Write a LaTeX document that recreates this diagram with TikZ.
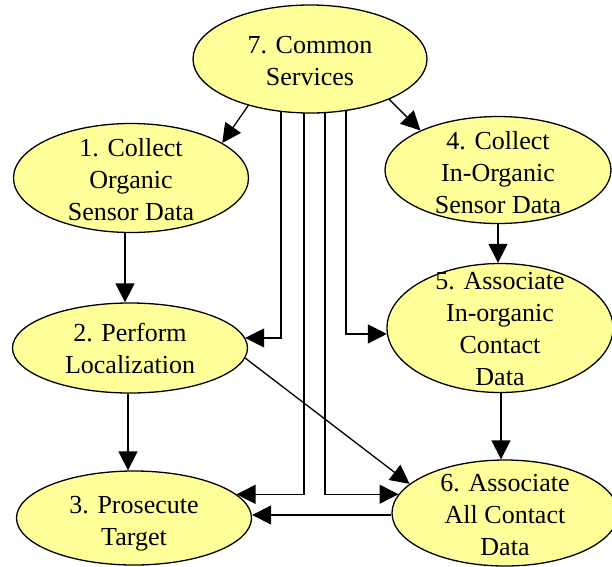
\documentclass[tikz,border=0pt]{standalone}
\usepackage{fontspec}
\setmainfont{Liberation Serif}
\usetikzlibrary{shapes.geometric,arrows.meta,backgrounds}
\definecolor{procfill}{HTML}{FFFF99}
\begin{document}
\begin{tikzpicture}[x=1pt,y=-1pt,
  proc/.style={ellipse, draw, line width=1.3pt, fill=procfill, inner sep=0pt},
  ptext/.style={align=center, inner sep=0pt, font=\rmfamily\fontsize{26}{32}\selectfont},
  flow/.style={line width=1.3pt, -{Triangle[length=19pt,width=19pt]}}]
\useasboundingbox (0,0) rectangle (612,566);

% process bubbles
\node[proc, minimum width=234pt, minimum height=108pt,
  label={[ptext,yshift=-2pt]center:7. Common\\Services}] (n7) at (310,59) {};
\node[proc, minimum width=235pt, minimum height=109pt,
  label={[ptext,yshift=-2pt]center:1. Collect\\Organic\\Sensor Data}] (n1) at (131,178) {};
\node[proc, minimum width=226pt, minimum height=107pt,
  label={[ptext,yshift=-3pt]center:4. Collect\\In-Organic\\Sensor Data}] (n4) at (498,170) {};
\node[proc, minimum width=235pt, minimum height=90pt,
  label={[ptext]center:2. Perform\\Localization}] (n2) at (130,348) {};
\node[proc, minimum width=226pt, minimum height=129pt,
  label={[ptext,yshift=-1pt]center:5. Associate\\In-organic\\Contact\\Data}] (n5) at (500,328) {};
\node[proc, minimum width=235pt, minimum height=94pt,
  label={[ptext,yshift=-6pt]center:3. Prosecute\\Target}] (n3) at (134,518) {};
\node[proc, minimum width=226pt, minimum height=106pt,
  label={[ptext,yshift=-2pt]center:6. Associate\\All Contact\\Data}] (n6) at (505,513) {};

% vertical service lines leaving the common services bubble
\coordinate (bus1) at (281,0);
\coordinate (bus2) at (304,0);
\coordinate (bus3) at (325,0);
\coordinate (bus4) at (346,0);

\begin{scope}[on background layer]
  \draw[flow] (n7.217) -- (n1.21);
  \draw[flow] (n7.333) -- (n4.153);
  \draw[flow] ([xshift=-6pt]n1.south) -- ([xshift=-6pt]n1.south |- n2.north);
  \draw[flow] ([xshift=-2pt]n2.south) -- ([xshift=-2pt]n2.south |- n3.north);
  \draw[flow] (n4.south) -- (n4.south |- n5.north);
  \draw[flow] ([xshift=1pt]n5.south) -- ([xshift=1pt]n5.south |- n6.north);
  \draw[flow] (n2.-5) -- (n6.163);
  \draw[flow] (n6.181) -- (n6.181 -| n3.east);
  \draw[flow] (n7.center -| bus1) |- (n2.5);
  \draw[flow] (n7.center -| bus2) |- (n3.13);
  \draw[flow] (n7.center -| bus3) |- (n6.170);
  \draw[flow] (n7.center -| bus4) |- (n5.183);
\end{scope}
\end{tikzpicture}
\end{document}
